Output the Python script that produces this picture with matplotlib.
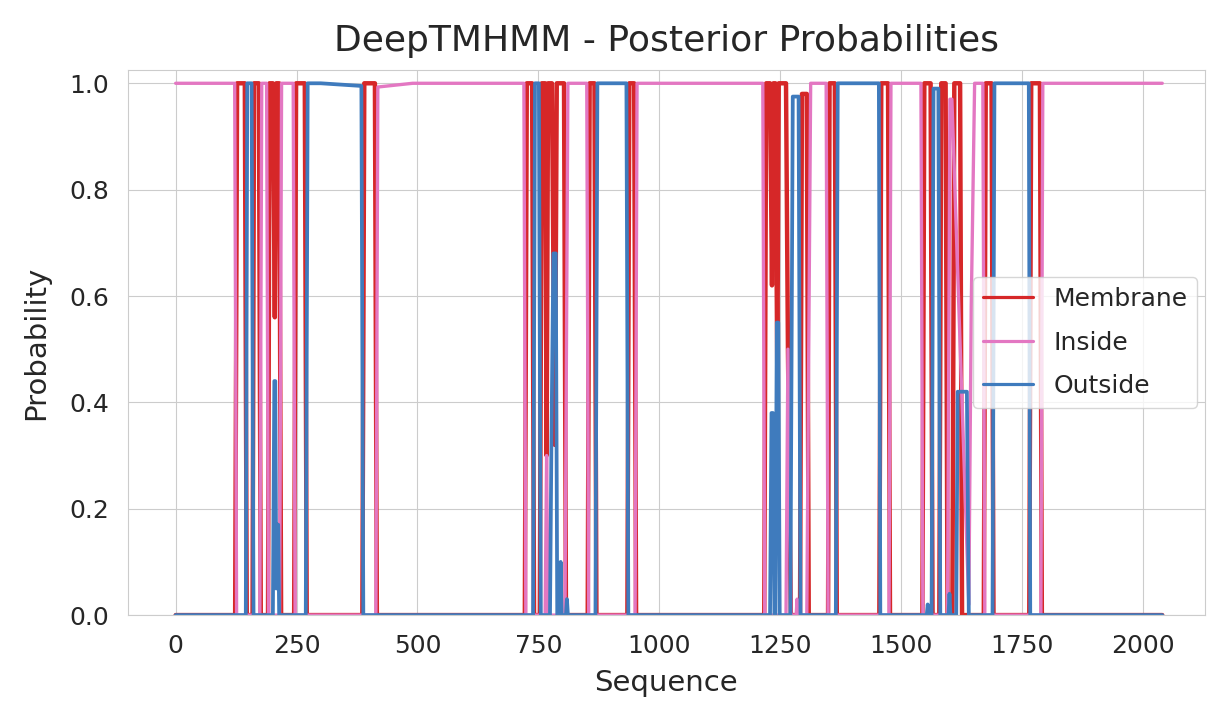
import matplotlib
matplotlib.use("Agg")
import matplotlib.pyplot as plt
from matplotlib.lines import Line2D
import seaborn as sns

# ---- data (breakpoints) ----
seq_length = 2040

membrane_x = [0, 123, 127, 143, 147, 159, 162, 172, 176,
              191, 194, 201, 205, 208, 214, 218,
              245, 249, 267, 271, 386, 390, 412, 416,
              722, 726, 737, 741,
              753, 757, 764, 767, 770, 778, 784, 788, 803, 807,
              852, 856, 866, 870, 934, 938, 948, 952,
              1217, 1221, 1229, 1233, 1236, 1240, 1244, 1247, 1262, 1266, 1272,
              1291, 1295, 1305, 1309, 1349, 1352, 1363, 1367,
              1455, 1459, 1473, 1477, 1544, 1548, 1561, 1565,
              1579, 1583, 1592, 1596, 1606, 1610, 1622, 1626,
              1671, 1675, 1687, 1691, 1765, 1769, 1787, 1791, seq_length]
membrane_y = [0, 0, 1, 1, 0, 0, 1, 1, 0,
              0, 1, 1, 0.56, 1, 1, 0,
              0, 1, 1, 0, 0, 1, 1, 0,
              0, 1, 1, 0,
              0, 1, 1, 0.30, 1, 1, 0.32, 1, 1, 0,
              0, 1, 1, 0, 0, 1, 1, 0,
              0, 1, 1, 0.62, 1, 1, 0.45, 1, 1, 0.50, 0,
              0, 0.98, 0.98, 0, 0, 1, 1, 0,
              0, 1, 1, 0, 0, 1, 1, 0,
              0, 1, 1, 0, 0, 1, 1, 0,
              0, 1, 1, 0, 0, 1, 1, 0, 0]

inside_x = [0, 122, 126, 174, 178, 188, 192, 215, 219, 243, 247,
            414, 418, 490, 720, 724, 764, 767, 770,
            805, 811, 850, 854, 950, 954, 1214, 1218,
            1262, 1266, 1272, 1283, 1285, 1287,
            1305, 1313, 1345, 1349, 1475, 1479, 1541, 1545,
            1596, 1601, 1605, 1640, 1645, 1652, 1669, 1673,
            1789, 1793, seq_length]
inside_y = [1, 1, 0, 0, 1, 1, 0, 0, 1, 1, 0,
            0, 0.993, 1, 1, 0, 0, 0.30, 0,
            0, 1, 1, 0, 0, 1, 1, 0,
            0, 0.50, 0, 0, 0.03, 0,
            0, 1, 1, 0, 0, 1, 1, 0,
            0, 0.97, 0.97, 0.02, 0.58, 1, 1, 0,
            0, 1, 1]

outside_x = [0, 145, 148, 157, 161, 201, 204, 206, 208, 210, 212, 214,
             269, 273, 300, 384, 388, 739, 743, 751, 755,
             774, 777, 781, 786, 789, 794, 796, 798, 807, 809, 811,
             868, 872, 932, 936,
             1229, 1232, 1235, 1238, 1240, 1243, 1246, 1249, 1271, 1276, 1288, 1292,
             1365, 1369, 1454, 1457,
             1553, 1555, 1557, 1563, 1567, 1577, 1581, 1598, 1600, 1602,
             1614, 1617, 1636, 1640, 1689, 1693, 1764, 1767, seq_length]
outside_y = [0, 0, 1, 1, 0, 0, 0.44, 0.44, 0.05, 0.17, 0.17, 0,
             0, 1, 1, 0.995, 0, 0, 1, 1, 0,
             0, 0.33, 0.68, 0.68, 0, 0, 0.10, 0, 0, 0.03, 0,
             0, 1, 1, 0,
             0, 0.38, 0.38, 0, 0, 0.55, 0.55, 0, 0, 0.975, 0.975, 0,
             0, 1, 1, 0,
             0, 0.02, 0, 0, 0.99, 0.99, 0, 0, 0.04, 0,
             0, 0.42, 0.42, 0, 0, 1, 1, 0, 0]

series_names = ["Membrane", "Inside", "Outside"]
series_colors = ["#d62728", "#e377c2", "#3f7bbd"]
series_widths = [3.2, 2.4, 2.7]
x_ticks = [0, 250, 500, 750, 1000, 1250, 1500, 1750, 2000]
y_ticks = [0.0, 0.2, 0.4, 0.6, 0.8, 1.0]

sns.set_style("whitegrid")
plt.rcParams['font.family'] = ['DejaVu Sans']

fig = plt.figure(figsize=(12.17, 7.07), dpi=100)
ax = fig.add_axes([0.105, 0.130, 0.885, 0.771])

for xs, ys, name, col, lw in zip([membrane_x, inside_x, outside_x],
                                 [membrane_y, inside_y, outside_y],
                                 series_names, series_colors, series_widths):
    ax.plot(xs, ys, color=col, lw=lw, label=name)

ax.set_xticks(x_ticks)
ax.set_yticks(y_ticks)
ax.set_yticklabels([f"{v:.1f}" for v in y_ticks])
ax.set_ylim(0, 1.025)
ax.set_xlim(-99, 2128)
ax.tick_params(labelsize=18, colors="#262626")
ax.tick_params(axis="y", pad=10)
ax.tick_params(axis="x", pad=10)
ax.set_xlabel("Sequence", fontsize=21, color="#262626")
ax.set_ylabel("Probability", fontsize=21, color="#262626")
ax.yaxis.set_label_coords(-0.072, 0.5)
ax.xaxis.set_label_coords(0.5, -0.098)
ax.set_title("DeepTMHMM - Posterior Probabilities", fontsize=26, color="#262626", pad=14)

handles = [Line2D([0], [0], color=c, lw=2.3) for c in series_colors]
leg = ax.legend(handles, series_names, loc="center right", fontsize=18,
                framealpha=0.8, labelspacing=0.78, borderaxespad=0.3)

fig.savefig("out.png", dpi=100)
